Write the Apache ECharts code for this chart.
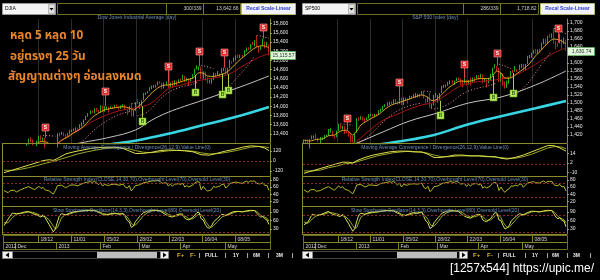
<!DOCTYPE html>
<html><head><meta charset="utf-8">
<script src="https://cdn.jsdelivr.net/npm/echarts@6.0.0/dist/echarts.min.js"></script>
<style>html,body{margin:0;padding:0;background:#000;}#c{width:600px;height:280px;}</style>
</head><body><div id="c"></div>
<script>
// ---------- categories ----------
const dates = ['2012-11-23','2012-11-26','2012-11-27','2012-11-28','2012-11-29','2012-11-30',
'2012-12-03','2012-12-04','2012-12-05','2012-12-06','2012-12-07','2012-12-10','2012-12-11','2012-12-12','2012-12-13','2012-12-14','2012-12-17','2012-12-18','2012-12-19','2012-12-20','2012-12-21','2012-12-24','2012-12-26','2012-12-27','2012-12-28','2012-12-31',
'2013-01-02','2013-01-03','2013-01-04','2013-01-07','2013-01-08','2013-01-09','2013-01-10','2013-01-11','2013-01-14','2013-01-15','2013-01-16','2013-01-17','2013-01-18','2013-01-22','2013-01-23','2013-01-24','2013-01-25','2013-01-28','2013-01-29','2013-01-30','2013-01-31',
'2013-02-01','2013-02-04','2013-02-05','2013-02-06','2013-02-07','2013-02-08','2013-02-11','2013-02-12','2013-02-13','2013-02-14','2013-02-15','2013-02-19','2013-02-20','2013-02-21','2013-02-22','2013-02-25','2013-02-26','2013-02-27','2013-02-28',
'2013-03-01','2013-03-04','2013-03-05','2013-03-06','2013-03-07','2013-03-08','2013-03-11','2013-03-12','2013-03-13','2013-03-14','2013-03-15','2013-03-18','2013-03-19','2013-03-20','2013-03-21','2013-03-22','2013-03-25','2013-03-26','2013-03-27','2013-03-28',
'2013-04-01','2013-04-02','2013-04-03','2013-04-04','2013-04-05','2013-04-08','2013-04-09','2013-04-10','2013-04-11','2013-04-12','2013-04-15','2013-04-16','2013-04-17','2013-04-18','2013-04-19','2013-04-22','2013-04-23','2013-04-24','2013-04-25','2013-04-26','2013-04-29','2013-04-30',
'2013-05-01','2013-05-02','2013-05-03','2013-05-06','2013-05-07','2013-05-08','2013-05-09','2013-05-10','2013-05-13','2013-05-14','2013-05-15','2013-05-16','2013-05-17','2013-05-20','2013-05-21','2013-05-22','2013-05-23','2013-05-24','2013-05-28','2013-05-29','2013-05-30','2013-05-31'];
const dayTickDates = ['2012-12-18','2013-01-11','2013-02-05','2013-02-28','2013-03-22','2013-04-16','2013-05-08'];
const dayLabels = ['18/12','11/01','05/02','28/02','22/03','16/04','08/05'];
const monthTickDates = ['2012-12-03','2013-01-02','2013-02-01','2013-03-01','2013-04-01','2013-05-01'];
const monthLabels = ['2012','Dec','2013','Feb','Mar','Apr','May'];

// ---------- DJIA ----------
const djOpen = [12830,13005,12966,12875,12987,13022,
13026,12966,12950,13032,13075,13155,13170,13250,13245,13170,13135,13236,13350,13250,13310,13190,13138,13115,13095,12938,
13105,13410,13390,13435,13385,13330,13390,13470,13488,13505,13535,13510,13595,13650,13712,13780,13825,13895,13882,13955,13910,
13860,14005,13880,13975,13985,13945,13990,13970,14020,13980,13975,13980,14035,13925,13880,14000,13785,13900,14075,
14055,14085,14130,14255,14295,14330,14395,14445,14450,14455,14540,14510,14455,14455,14510,14420,14515,14450,14560,14527,
14580,14575,14660,14550,14605,14565,14613,14675,14800,14865,14865,14600,14755,14620,14535,14550,14570,14720,14675,14700,14712,14815,
14840,14700,14830,14970,14970,15055,15105,15080,15115,15090,15215,15275,15235,15355,15335,15390,15300,15290,15305,15405,15300,15320];
const djHigh = [13010,13010,13020,12990,13060,13060,
13110,13010,13090,13080,13190,13200,13295,13330,13280,13190,13250,13360,13365,13315,13312,13190,13170,13120,13095,13110,
13415,13430,13445,13435,13390,13420,13480,13490,13515,13540,13535,13610,13650,13715,13790,13850,13905,13910,13960,13970,13925,
14020,14010,14000,13995,13990,14000,13995,14030,14040,13990,14020,14045,14040,13930,14000,14060,13910,14090,14150,
14095,14130,14290,14300,14330,14415,14450,14460,14470,14540,14545,14515,14520,14540,14510,14515,14560,14565,14560,14585,
14600,14685,14665,14620,14605,14615,14700,14820,14888,14870,14865,14760,14755,14630,14580,14610,14735,14725,14770,14715,14830,14840,
14840,14840,15010,14980,15060,15106,15130,15120,15120,15220,15280,15285,15355,15400,15440,15542,15300,15300,15470,15405,15400,15350];
const djLow = [12830,12920,12875,12770,12960,12990,
12960,12920,12935,12985,13060,13140,13165,13210,13150,13120,13130,13230,13250,13240,13100,13135,13080,12965,12935,12885,
13105,13340,13375,13345,13290,13330,13385,13440,13460,13450,13480,13510,13560,13610,13700,13770,13825,13860,13850,13880,13850,
13860,13870,13880,13920,13860,13940,13950,13960,13960,13920,13940,13975,13920,13810,13880,13780,13780,13895,14050,
13940,14000,14130,14250,14280,14330,14370,14400,14410,14455,14490,14370,14390,14455,14400,14420,14400,14450,14450,14520,
14530,14575,14520,14540,14440,14540,14600,14675,14800,14780,14595,14600,14560,14500,14500,14490,14570,14650,14675,14650,14712,14765,
14685,14700,14830,14930,14970,15000,15050,15050,15050,15090,15190,15220,15235,15330,15300,15290,15170,15220,15305,15260,15300,15110];
const djClose = [13010,12968,12878,12986,13022,13026,
12966,12952,13035,13075,13155,13170,13249,13245,13170,13135,13236,13351,13252,13312,13191,13139,13115,13096,12938,13104,
13412,13392,13435,13385,13329,13391,13472,13488,13507,13535,13511,13597,13650,13712,13780,13826,13896,13882,13954,13911,13861,
14010,13880,13979,13986,13944,13993,13971,14019,13982,13973,13981,14036,13928,13881,14001,13784,13900,14076,14054,
14090,14128,14254,14296,14329,14397,14448,14450,14455,14539,14515,14453,14456,14512,14421,14512,14448,14560,14527,14579,
14573,14662,14550,14606,14565,14613,14674,14802,14865,14865,14599,14757,14619,14537,14548,14567,14719,14676,14700,14712,14818,14840,
14700,14831,14973,14969,15056,15105,15083,15118,15091,15215,15275,15233,15355,15335,15388,15307,15294,15303,15409,15302,15324,15115.57];
const djYellow = [[0,12990],[3,12960],[6,12985],[9,13010],[12,13110],[15,13160],[18,13230],[21,13215],[24,13120],[26,13180],[28,13260],[31,13330],[34,13420],[37,13500],[40,13620],[43,13760],[46,13850],[49,13920],[52,13950],[55,13975],[58,13990],[61,13960],[63,13920],[65,13980],[68,14100],[71,14250],[74,14370],[77,14450],[80,14465],[83,14490],[86,14530],[89,14580],[92,14610],[95,14730],[97,14720],[99,14660],[102,14650],[105,14680],[108,14730],[111,14840],[114,14980],[117,15090],[120,15200],[123,15290],[126,15320],[129,15270]];
const djRed = [[20,13110],[26,13200],[32,13380],[38,13530],[44,13690],[50,13810],[56,13900],[62,13950],[68,14000],[72,14080],[76,14230],[80,14380],[86,14460],[92,14530],[98,14590],[104,14630],[110,14710],[116,14870],[122,15020],[126,15100],[129,15140]];
const djWhite = [[30,13140],[37,13200],[52,13330],[64,13483],[72,13700],[80,13870],[88,14000],[97,14136],[108,14310],[118,14470],[129,14660]];
const djCyan = [[40,13080],[52,13170],[64,13250],[80,13400],[97,13590],[113,13770],[129,13985]];
const djSar = [
 [[19,13365],[21,13362],[23,13355],[25,13345]],
 [[26,12940],[30,13000],[34,13100],[38,13230],[42,13400],[46,13560],[50,13680],[54,13780],[58,13850],[61,13880]],
 [[62,14060],[63,14058],[64,14055]],
 [[65,13790],[68,13830],[71,13920],[74,14060],[77,14200],[80,14300],[83,14370],[86,14420],[89,14450],[92,14480],[95,14540]],
 [[96,14888],[98,14870],[100,14845],[102,14815]],
 [[104,14250],[107,14330],[110,14450],[113,14600],[116,14750],[119,14900],[122,15100]],
 [[123,15542],[125,15530],[127,15505],[129,15480]]];
const djSells = [[20,13540],[49,14330],[80,14870],[95,15210],[107,15190],[126,15725]];
const djBuys = [[67,13670],[93,14310],[106,14270],[109,14350]];
const djMacd = [[0,-140],[4,-110],[8,-80],[12,-50],[16,-20],[19,5],[22,15],[24,8],[26,30],[30,85],[34,110],[38,130],[42,150],[46,162],[50,165],[54,165],[58,150],[61,120],[64,90],[68,92],[72,105],[76,125],[80,132],[84,128],[88,122],[92,110],[96,75],[100,70],[104,95],[108,120],[112,140],[116,165],[120,182],[124,175],[127,155],[129,125]];
const djSignal = [[0,-110],[4,-112],[8,-100],[12,-80],[16,-55],[20,-28],[24,-5],[28,25],[32,55],[36,85],[40,108],[44,128],[48,145],[52,156],[56,160],[60,150],[64,125],[68,105],[72,100],[76,110],[80,122],[84,127],[88,125],[92,118],[96,98],[100,85],[104,88],[108,102],[112,120],[116,142],[120,165],[124,175],[127,170],[129,160]];
const djRsi = [[0,50],[2,44],[3,50],[5,51],[6,46],[8,52],[10,57],[12,61],[14,55],[15,53],[17,62],[18,56],[19,59],[20,52],[22,49],[24,40],[25,50],[26,64],[28,65],[30,58],[31,61],[32,65],[34,66],[36,63],[37,67],[38,69],[40,73],[42,75],[43,73],[44,76],[46,67],[47,72],[48,63],[49,67],[51,64],[52,67],[54,68],[56,65],[58,68],[59,60],[60,57],[61,64],[62,49],[63,56],[64,64],[66,66],[68,72],[70,74],[72,77],[74,77],[75,79],[76,76],[77,70],[79,72],[80,63],[81,68],[82,62],[83,68],[85,69],[86,67],[87,71],[88,60],[89,64],[90,60],[92,66],[93,72],[94,75],[95,74],[96,52],[97,62],[98,54],[99,49],[100,50],[101,52],[102,62],[103,59],[104,61],[105,62],[106,67],[107,68],[108,57],[109,63],[110,70],[112,73],[113,74],[114,72],[116,70],[117,74],[118,76],[119,73],[120,77],[121,76],[122,77],[123,70],[124,69],[125,69],[126,72],[127,64],[128,65],[129,50]];
const djStochK = [[0,42],[2,65],[4,86],[6,84],[8,86],[10,90],[12,92],[14,84],[16,80],[18,72],[19,80],[20,70],[22,45],[24,20],[25,30],[26,55],[27,78],[28,84],[30,80],[32,86],[34,91],[36,92],[38,94],[40,96],[42,96],[44,95],[46,88],[47,86],[48,80],[50,80],[52,84],[54,86],[56,82],[58,84],[59,74],[60,60],[61,55],[62,36],[63,40],[64,56],[66,74],[68,88],[70,93],[72,96],[74,96],[76,93],[78,84],[80,76],[82,72],[84,80],[86,84],[87,82],[88,68],[89,64],[90,62],[92,72],[94,88],[95,88],[96,66],[97,62],[98,46],[99,35],[100,33],[101,40],[102,55],[104,68],[106,82],[108,78],[110,86],[112,92],[114,92],[116,90],[118,94],[120,96],[122,95],[123,86],[124,78],[125,72],[126,74],[127,66],[128,62],[129,46]];
const djStochD = [[0,52],[2,52],[4,70],[6,82],[8,85],[10,87],[12,90],[14,89],[16,84],[18,76],[20,74],[22,62],[24,40],[25,30],[26,35],[27,52],[28,70],[30,80],[32,83],[34,88],[36,91],[38,93],[40,95],[42,96],[44,96],[46,92],[48,85],[50,82],[52,82],[54,84],[56,84],[58,84],[60,72],[61,62],[62,50],[63,44],[64,44],[66,60],[68,78],[70,88],[72,94],[74,96],[76,95],[78,90],[80,82],[82,76],[84,76],[86,80],[88,76],[89,72],[90,65],[92,66],[94,78],[95,82],[96,80],[97,72],[98,58],[99,48],[100,38],[101,36],[102,42],[104,56],[106,72],[108,78],[110,82],[112,88],[114,92],[116,92],[118,92],[120,94],[122,95],[123,92],[124,86],[125,78],[126,74],[127,72],[128,68],[129,58]];
const djPriceTicks = [13400,13600,13800,14000,14200,14400,14600,14800,15000,15200,15400,15600,15800];
const djMacdTicks = [-120,0,120];

// ---------- S&P 500 ----------
const spOpen = [1403,1409,1406,1398,1409,1416,
1416,1409,1407,1409,1413,1418,1418,1428,1428,1419,1414,1430,1446,1436,1443,1430,1426,1419,1418,1402,
1426,1462,1459,1466,1462,1457,1461,1472,1472,1471,1472,1470,1481,1486,1493,1495,1495,1503,1500,1508,1502,
1498,1513,1495,1512,1512,1509,1518,1518,1520,1520,1521,1520,1530,1511,1502,1516,1488,1496,1515,
1515,1518,1525,1540,1541,1545,1552,1557,1552,1555,1563,1561,1553,1549,1558,1546,1556,1551,1564,1563,
1569,1562,1570,1553,1559,1553,1563,1568,1587,1593,1588,1553,1574,1552,1541,1555,1562,1579,1578,1585,1582,1594,
1598,1582,1597,1614,1618,1626,1633,1627,1634,1633,1651,1659,1650,1668,1666,1669,1655,1650,1649,1660,1648,1655];
const spHigh = [1409,1409,1409,1410,1419,1419,
1424,1413,1415,1414,1420,1421,1435,1438,1431,1419,1431,1448,1447,1443,1443,1430,1430,1422,1418,1426,
1462,1465,1467,1466,1463,1464,1472,1473,1472,1473,1473,1482,1486,1493,1497,1502,1503,1504,1509,1510,1504,
1514,1513,1514,1513,1512,1518,1518,1522,1525,1523,1524,1530,1530,1511,1516,1525,1498,1520,1525,
1520,1525,1543,1545,1546,1553,1557,1557,1556,1563,1564,1561,1558,1561,1558,1557,1564,1564,1564,1570,
1570,1573,1571,1562,1559,1563,1573,1588,1597,1593,1588,1575,1574,1554,1556,1565,1580,1583,1592,1585,1596,1598,
1598,1598,1618,1620,1626,1633,1635,1634,1636,1651,1661,1661,1668,1672,1674,1687,1655,1650,1674,1660,1664,1659];
const spLow = [1398,1398,1397,1386,1409,1411,
1408,1403,1399,1407,1410,1415,1418,1426,1416,1411,1414,1430,1435,1433,1422,1424,1416,1401,1401,1398,
1426,1455,1458,1456,1452,1457,1461,1467,1466,1464,1467,1470,1478,1482,1490,1492,1495,1497,1498,1499,1496,
1498,1495,1495,1505,1498,1509,1513,1515,1513,1514,1514,1520,1511,1498,1502,1488,1485,1494,1514,
1501,1506,1525,1538,1539,1543,1547,1548,1545,1555,1557,1545,1539,1549,1544,1546,1543,1551,1551,1561,
1558,1562,1549,1552,1539,1549,1557,1568,1586,1579,1552,1553,1543,1536,1538,1548,1562,1575,1578,1577,1582,1587,
1581,1582,1597,1612,1613,1623,1623,1623,1626,1632,1647,1646,1650,1663,1662,1648,1635,1640,1649,1636,1647,1630];
const spClose = [1409,1406,1398,1409,1415,1416,
1409,1407,1409,1413,1418,1418,1428,1428,1419,1414,1430,1446,1436,1443,1430,1426,1419,1418,1402,1426,
1462,1459,1466,1462,1457,1461,1472,1472,1471,1472,1470,1481,1486,1493,1495,1495,1503,1500,1508,1502,1498,
1513,1495,1512,1512,1509,1518,1518,1520,1520,1521,1520,1530,1511,1502,1516,1488,1496,1515,1515,
1518,1525,1540,1541,1545,1552,1557,1552,1555,1563,1561,1553,1549,1558,1546,1556,1551,1564,1563,1569,
1562,1570,1553,1559,1553,1563,1568,1587,1593,1588,1553,1574,1552,1541,1555,1562,1579,1578,1585,1582,1594,1598,
1582,1597,1614,1618,1626,1633,1627,1634,1633,1651,1659,1650,1668,1666,1669,1655,1650,1649,1660,1648,1655,1630.74];
const spYellow = [[0,1407],[3,1405],[6,1409],[9,1410],[12,1418],[15,1420],[18,1430],[21,1432],[24,1420],[26,1430],[28,1445],[31,1455],[34,1464],[37,1472],[40,1485],[43,1495],[46,1500],[49,1505],[52,1510],[55,1516],[58,1520],[61,1514],[63,1506],[65,1508],[68,1522],[71,1537],[74,1548],[77,1555],[80,1554],[83,1556],[86,1561],[89,1561],[92,1563],[95,1580],[97,1575],[99,1562],[102,1563],[105,1574],[108,1585],[111,1598],[114,1618],[117,1633],[120,1650],[123,1660],[126,1657],[129,1648]];
const spRed = [[22,1395],[26,1405],[33,1435],[39,1457],[46,1472],[52,1485],[58,1495],[64,1502],[70,1520],[76,1540],[82,1550],[89,1555],[97,1560],[105,1572],[110,1585],[114,1597],[118,1610],[122,1622],[126,1632],[129,1637]];
const spWhite = [[22,1395],[26,1400],[39,1428],[52,1455],[65,1474],[81,1500],[97,1515],[114,1545],[129,1580]];
const spCyan = [[30,1392],[42,1400],[52,1408],[64,1420],[81,1447],[97,1467],[114,1487],[129,1505]];
const spSar = [
 [[18,1448],[20,1447],[22,1446],[24,1444]],
 [[26,1398],[30,1410],[34,1428],[38,1448],[42,1466],[46,1480],[50,1490],[54,1496],[58,1500]],
 [[59,1530],[61,1529],[63,1527]],
 [[64,1485],[68,1490],[72,1500],[76,1515],[80,1528],[84,1535],[88,1540],[92,1545],[95,1550]],
 [[96,1597],[98,1594],[100,1590],[102,1586]],
 [[104,1520],[107,1532],[110,1548],[113,1568],[116,1590],[119,1610],[122,1630]],
 [[123,1687],[125,1683],[127,1678],[129,1673]]];
const spSells = [[21,1462],[47,1553],[79,1597],[95,1626],[125,1688]];
const spBuys = [[67,1471],[93,1516],[103,1526]];
const spMacd = [[0,-11],[4,-8],[8,-5],[12,-2],[16,1],[19,3],[22,3],[24,2],[26,5],[30,9],[34,12],[38,14],[42,16],[46,17],[50,17],[54,16],[58,16],[61,13],[64,9],[67,9],[70,10],[74,12],[78,12],[82,11],[86,11],[90,10],[94,10],[97,8],[100,7],[104,9],[108,12],[112,16],[116,20],[120,24],[123,24],[126,21],[129,17]];
const spSignal = [[0,-8],[4,-8],[8,-7],[12,-4],[16,-2],[20,1],[24,2],[28,5],[32,8],[36,11],[40,13],[44,15],[48,16],[52,17],[56,16],[60,15],[64,12],[68,10],[72,10],[76,11],[80,11],[84,11],[88,11],[92,10],[96,9],[100,8],[104,8],[108,10],[112,13],[116,17],[120,21],[124,23],[127,22],[129,20]];
const spRsi = [[0,52],[2,45],[3,52],[5,53],[6,48],[8,50],[10,56],[12,61],[14,54],[15,51],[17,63],[18,58],[19,61],[20,54],[22,50],[24,41],[25,52],[26,66],[28,67],[30,60],[31,62],[32,66],[34,65],[36,64],[37,68],[38,70],[40,72],[42,75],[43,73],[44,76],[46,66],[47,71],[48,60],[49,67],[51,65],[52,68],[54,69],[56,68],[58,71],[59,59],[60,55],[61,62],[62,47],[63,52],[64,61],[66,63],[68,70],[70,72],[72,75],[74,73],[75,76],[76,74],[77,68],[79,70],[80,62],[81,67],[82,63],[83,68],[85,70],[86,66],[87,69],[88,57],[89,61],[90,57],[92,64],[93,71],[94,73],[95,70],[96,50],[97,60],[98,50],[99,45],[100,52],[101,55],[102,63],[103,62],[104,65],[105,63],[106,67],[107,69],[108,59],[109,65],[110,71],[112,74],[113,75],[114,72],[116,71],[117,75],[118,77],[119,72],[120,76],[121,75],[122,76],[123,67],[124,64],[125,64],[126,67],[127,60],[128,62],[129,49]];
const spStochK = [[0,45],[2,55],[4,82],[6,78],[8,80],[10,86],[12,92],[14,82],[16,78],[18,74],[19,82],[20,72],[22,48],[24,22],[25,32],[26,58],[27,80],[28,86],[30,82],[32,88],[34,90],[36,90],[38,93],[40,95],[42,95],[44,94],[46,86],[47,84],[48,76],[50,78],[52,84],[54,88],[56,86],[58,90],[59,74],[60,58],[61,52],[62,32],[63,36],[64,52],[66,70],[68,86],[70,92],[72,95],[74,94],[76,92],[78,80],[80,72],[82,68],[84,78],[86,82],[87,80],[88,62],[89,58],[90,56],[92,68],[94,88],[95,86],[96,62],[97,60],[98,42],[99,30],[100,34],[101,42],[102,58],[104,72],[106,84],[108,80],[110,88],[112,93],[114,92],[116,90],[118,94],[120,96],[122,95],[123,84],[124,72],[125,66],[126,70],[127,60],[128,58],[129,38]];
const spStochD = [[0,55],[2,50],[4,65],[6,76],[8,80],[10,82],[12,88],[14,87],[16,84],[18,78],[20,76],[22,64],[24,42],[25,32],[26,36],[27,54],[28,72],[30,82],[32,85],[34,88],[36,90],[38,92],[40,94],[42,95],[44,95],[46,91],[48,82],[50,78],[52,80],[54,84],[56,86],[58,88],[60,74],[61,64],[62,48],[63,40],[64,40],[66,56],[68,76],[70,86],[72,92],[74,94],[76,94],[78,88],[80,78],[82,72],[84,73],[86,78],[88,74],[89,68],[90,60],[92,62],[94,76],[95,80],[96,78],[97,70],[98,54],[99,44],[100,36],[101,36],[102,44],[104,60],[106,76],[108,80],[110,84],[112,90],[114,92],[116,91],[118,92],[120,94],[122,95],[123,91],[124,84],[125,74],[126,70],[127,66],[128,63],[129,52]];
const spPriceTicks = [1420,1440,1460,1480,1500,1520,1540,1560,1580,1600,1620,1640,1660,1680,1700];
const spMacdTicks = [-10,2,14];
const rsiTicks = [20,40,60,80];
const stochTicks = [30,60,90];

// ---------- style ----------
const OLIVE = '#8c8c2c';
const UP = '#22e022', DN = '#f02424';
const FONT = 'Liberation Sans, Arial, sans-serif';
const fmt = v => Number(v).toLocaleString('en-US');
const sepIdx = new Set(dayTickDates.map(d => dates.indexOf(d)));

const sides = [
  {left:3, width:267, open:djOpen, high:djHigh, low:djLow, close:djClose, yellow:djYellow, red:djRed, white:djWhite, cyan:djCyan, sar:djSar, sells:djSells, buys:djBuys,
   macd:djMacd, signal:djSignal, rsi:djRsi, k:djStochK, d:djStochD, pMin:13200, pMax:15900, pTicks:djPriceTicks, mMin:-180, mMax:204, mTicks:djMacdTicks},
  {left:303, width:264, open:spOpen, high:spHigh, low:spLow, close:spClose, yellow:spYellow, red:spRed, white:spWhite, cyan:spCyan, sar:spSar, sells:spSells, buys:spBuys,
   macd:spMacd, signal:spSignal, rsi:spRsi, k:spStochK, d:spStochD, pMin:1400, pMax:1710, pTicks:spPriceTicks, mMin:-14.4, mMax:26, mTicks:spMacdTicks}
];

const grid = [], xAxis = [], yAxis = [], series = [];
const panels = [{top:19,height:124},{top:144,height:32},{top:177,height:30},{top:207,height:27}];

function yAx(gi, min, max, ticks) {
  return {gridIndex:gi, type:'value', position:'right', min, max,
    axisLine:{show:true, lineStyle:{color:OLIVE, width:1}},
    axisTick:{show:true, length:2, customValues:ticks, lineStyle:{color:'#aaa', width:0.8}},
    axisLabel:{show:true, customValues:ticks, formatter:fmt, color:'#e8e8e8', fontSize:5, fontFamily:FONT, margin:3},
    splitLine:{show:false}};
}
function lineS(gi, data, color, width, extra) {
  return Object.assign({type:'line', xAxisIndex:gi, yAxisIndex:gi, data, symbol:'none', showSymbol:false, silent:true,
    lineStyle:{color, width}, z:3, animation:false}, extra || {});
}
function refLines(vals) {
  return {symbol:'none', silent:true, label:{show:false}, animation:false,
    lineStyle:{color:'#8a2a2a', type:[2,2], width:1}, data: vals.map(v => ({yAxis:v}))};
}
function markerSeries(gi, data, kind, high, low) {
  const isS = kind === 'S';
  return {type:'custom', xAxisIndex:gi, yAxisIndex:gi, data, encode:{x:0, y:1}, clip:false, z:8, silent:true, animation:false,
    renderItem(params, api) {
      const i = Math.round(api.value(0)), v = api.value(1);
      const p = api.coord([i, v]);
      const a = api.coord([i, isS ? high[i] : low[i]]);
      const h = 3.5;
      const px = Math.round(p[0]) + 0.5, py = Math.round(p[1]) + 0.5;
      return {type:'group', children:[
        {type:'line', shape:{x1:px, y1: isS ? py + h : py - h, x2:px, y2:a[1]}, style:{stroke: isS ? '#d84848' : '#a8d040', lineWidth:1}},
        {type:'rect', shape:{x:px - h, y:py - h, width:2*h, height:2*h}, style:{fill: isS ? '#e02a2a' : '#b6ee5a', stroke: isS ? '#ff9a9a' : '#6aa020', lineWidth:0.6}},
        {type:'text', x:px, y:py + 0.3, style:{text:kind, fill: isS ? '#ffffff' : '#2a5a10', font:'bold 5px ' + FONT, align:'center', verticalAlign:'middle', textAlign:'center', textVerticalAlign:'middle'}}
      ]};
    }};
}

sides.forEach((s, k) => {
  const b = k * 4;
  panels.forEach((p, j) => {
    grid.push({left:s.left, width:s.width, top:p.top, height:p.height, containLabel:false});
    xAxis.push({gridIndex:b + j, type:'category', data:dates, boundaryGap:true,
      axisLine:{show:false}, axisTick:{show:false}, axisLabel:{show:false},
      splitLine:{show: j === 0, interval:(i) => sepIdx.has(i), lineStyle:{color:'#2c2c2c', width:1}}});
  });
  yAxis.push(yAx(b, s.pMin, s.pMax, s.pTicks));
  yAxis.push(yAx(b + 1, s.mMin, s.mMax, s.mTicks));
  yAxis.push(yAx(b + 2, 4, 88, rsiTicks));
  yAxis.push(yAx(b + 3, 12.4, 107.6, stochTicks));

  series.push({type:'candlestick', xAxisIndex:b, yAxisIndex:b, barWidth:'62%', z:2, silent:true, animation:false,
    data: s.close.map((c, i) => [s.open[i], c, s.low[i], s.high[i]]),
    itemStyle:{color:UP, color0:DN, borderColor:UP, borderColor0:DN, borderWidth:0.8}});
  series.push(lineS(b, s.cyan, '#38d6e4', 2.6, {smooth:0.4}));
  series.push(lineS(b, s.white, '#c4c4c4', 1, {smooth:0.4}));
  series.push(lineS(b, s.red, '#a81616', 1, {smooth:0.4}));
  series.push(lineS(b, s.yellow, '#d8a428', 1, {smooth:0.3}));
  s.sar.forEach(seg => series.push(lineS(b, seg, '#f088a8', 1, {smooth:0.3, lineStyle:{color:'#f088a8', width:1, type:[1,2]}})));
  series.push(markerSeries(b, s.sells, 'S', s.high, s.low));
  series.push(markerSeries(b, s.buys, 'B', s.high, s.low));

  series.push(lineS(b + 1, s.signal, '#9aa826', 1, {markLine: refLines([0])}));
  series.push(lineS(b + 1, s.macd, '#e0e050', 1));
  series.push(lineS(b + 2, s.rsi, '#b8b828', 1, {markLine: refLines([70, 30])}));
  series.push(lineS(b + 3, s.d, '#9aa826', 1, {markLine: refLines([80, 20])}));
  series.push(lineS(b + 3, s.k, '#d8e050', 1));
});

const chart = echarts.init(document.getElementById('c'), null, {renderer:'canvas'});
chart.setOption({backgroundColor:'#000', animation:false, grid, xAxis, yAxis, series});

// ---------- chrome (boxes, titles, date rows, scrollbars) ----------
const R = (x, y, w, h, fill, stroke, lw) => ({type:'rect', z:100, shape:{x, y, width:w, height:h}, style:{fill: fill || 'none', stroke: stroke || 'none', lineWidth: lw || 0.8}});
const T = (x, y, text, font, fill, align) => ({type:'text', z:101, x, y, style:{text, font, fill, align: align || 'left', verticalAlign:'middle', textAlign: align || 'left', textVerticalAlign:'middle'}});
const Ln = (x1, y1, x2, y2, stroke) => ({type:'line', z:99, shape:{x1, y1, x2, y2}, style:{stroke, lineWidth:1}});
const Pg = (points, fill) => ({type:'polygon', z:101, shape:{points}, style:{fill}});
const F5 = '5px ' + FONT, B5 = 'bold 5px ' + FONT;
const G = [];

function bandLeft(axis, idx) {
  const c0 = chart.convertToPixel({xAxisIndex:axis}, dates[0]);
  const c1 = chart.convertToPixel({xAxisIndex:axis}, dates[1]);
  return chart.convertToPixel({xAxisIndex:axis}, dates[idx]) - (c1 - c0) / 2;
}

const chromeCfg = [
  {ticker:'DJIA', tx:2.5, box2:[57.5,109], box3:[166.5,37], t3:'300/339', box4:[203.5,37], t4:'13,642.66', btn:[241.5,54],
   title:'Dow Jones Industrial Average [day]', cx:137, pl:3, pr:270, last:15115.57, lastTxt:'15,115.57', tagW:25,
   scroll:{lb:2.5, track:[12.5,148], thumb:[97,60], rb:160.5, fp:177, fm:190, toks:[[199,'|'],[205,'FULL'],[225,'|'],[233,'1Y'],[247,'|'],[253,'6M'],[268,'|'],[276,'3M'],[292,'|']]}},
  {ticker:'SP500', tx:302.5, box2:[357.5,106], box3:[463.5,37], t3:'286/339', box4:[500.5,38], t4:'1,718.82', btn:[540.5,54],
   title:'S&P 500 Index [day]', cx:435, pl:303, pr:567, last:1630.74, lastTxt:'1,630.74', tagW:27,
   scroll:{lb:302.5, track:[312.5,147], thumb:[397,60], rb:459.5, fp:473, fm:487, toks:[[498,'|'],[503,'FULL'],[525,'|'],[532,'1Y'],[547,'|'],[552,'6M'],[567,'|'],[573,'3M'],[590,'|']]}}
];

chromeCfg.forEach((c, k) => {
  const axis = k * 4;
  G.push(R(c.tx, 3.5, 53, 11, '#f4f4f4', '#a0a0a0'));
  G.push(T(c.tx + 2.5, 9, c.ticker, F5, '#000'));
  G.push(R(c.tx + 46, 4.5, 6, 9, '#dedede', '#999', 0.6));
  G.push(Pg([[c.tx + 47, 8], [c.tx + 51, 8], [c.tx + 49, 10.5]], '#000'));
  G.push(R(c.box2[0], 3.5, c.box2[1], 11, '#000', OLIVE));
  G.push(R(c.box3[0], 3.5, c.box3[1], 11, '#000', OLIVE));
  G.push(T(c.box3[0] + c.box3[1] - 2, 9, c.t3, F5, '#d0d0d0', 'right'));
  G.push(R(c.box4[0], 3.5, c.box4[1], 11, '#000', OLIVE));
  G.push(T(c.box4[0] + c.box4[1] - 2, 9, c.t4, F5, '#d0d0d0', 'right'));
  G.push(R(c.btn[0], 3.5, c.btn[1], 11, '#f2f2fa', '#c8c870'));
  G.push(T(c.btn[0] + c.btn[1] / 2, 9, 'Recal Scale-Linear', B5, '#2a3ad0', 'center'));
  G.push(T(c.cx, 17.5, c.title, F5, '#6f90c0', 'center'));
  G.push(T(c.cx, 147.5, 'Moving Average Convergence / Divergence(26,12,9),Value Line(0)', F5, '#6f90c0', 'center'));
  G.push(T(c.cx, 179.5, 'Relative Strength Index(CLOSE,14,30,70),Overbought Level(70),Oversold Level(30)', F5, '#6f90c0', 'center'));
  G.push(T(c.cx, 210.5, 'Slow Stochastic Oscillator(14,3,3),Overbought Level(80),Oversold Level(20)', F5, '#6f90c0', 'center'));
  [143.5, 176.5, 206.5, 234.5].forEach(y => G.push(Ln(c.pl - 1, y, c.pr, y, OLIVE)));
  G.push(Ln(c.pl - 0.5, 143.5, c.pl - 0.5, 234.5, OLIVE));
  const ty = Math.round(chart.convertToPixel({yAxisIndex:axis}, c.last)) + 0.5;
  G.push(R(c.pr + 0.5, ty - 4, c.tagW, 8, '#e4f6de', '#5cbc5c', 0.7));
  G.push(T(c.pr + 1 + c.tagW / 2, ty, c.lastTxt, F5, '#1c301c', 'center'));
  const dx = [c.pl, ...dayTickDates.map(d => bandLeft(axis, dates.indexOf(d))), c.pr];
  for (let j = 0; j < dx.length - 1; j++) {
    const x0 = Math.round(dx[j]) + 0.5, x1 = Math.round(dx[j + 1]) + 0.5;
    G.push(R(x0, 235.5, x1 - x0, 7, 'none', OLIVE, 0.8));
    if (j > 0) G.push(T(x0 + 2, 239.2, dayLabels[j - 1], F5, '#d8d8d8'));
  }
  const mx = [c.pl, ...monthTickDates.map(d => bandLeft(axis, dates.indexOf(d))), c.pr];
  for (let j = 0; j < mx.length - 1; j++) {
    const x0 = Math.round(mx[j]) + 0.5, x1 = Math.round(mx[j + 1]) + 0.5;
    G.push(R(x0, 242.5, x1 - x0, 7, 'none', OLIVE, 0.8));
    G.push(T(x0 + 2, 246.2, monthLabels[j], F5, '#d8d8d8'));
  }
  const s = c.scroll;
  G.push(R(s.track[0], 251.5, s.track[1], 7, '#000', '#555'));
  G.push(R(s.thumb[0], 252, s.thumb[1], 6, '#bdbdbd', null));
  G.push(R(s.lb, 251.5, 10, 7, '#f0f0f0', '#888'));
  G.push(Pg([[s.lb + 6.5, 252.5], [s.lb + 6.5, 257.5], [s.lb + 3, 255]], '#000'));
  G.push(R(s.rb, 251.5, 8, 7, '#f0f0f0', '#888'));
  G.push(Pg([[s.rb + 2.5, 252.5], [s.rb + 2.5, 257.5], [s.rb + 6, 255]], '#000'));
  G.push(T(s.fp, 255.2, 'F+', 'bold 6px ' + FONT, '#d8b828'));
  G.push(T(s.fm, 255.2, 'F-', 'bold 6px ' + FONT, '#d8b828'));
  s.toks.forEach(t => G.push(T(t[0], 255.2, t[1], B5, '#f0f0f0')));
});

// Thai annotation
const THAI = 'bold 11.8px "Noto Sans Thai", "Noto Sans", "DejaVu Sans", sans-serif';
G.push(T(10, 37, 'หลุด 5 หลุด 10', THAI, '#e8862c'));
G.push(T(10, 58, 'อยู่ตรงๆ 25 วัน', THAI, '#e8862c'));
G.push(T(8, 78, 'สัญญาณต่างๆ อ่อนลงหมด', THAI, '#e8862c'));
// watermark
G.push(T(594, 269, '[1257x544] https://upic.me/', '12px ' + FONT, '#ffffff', 'right'));

chart.setOption({graphic: G});
</script>
</body></html>
